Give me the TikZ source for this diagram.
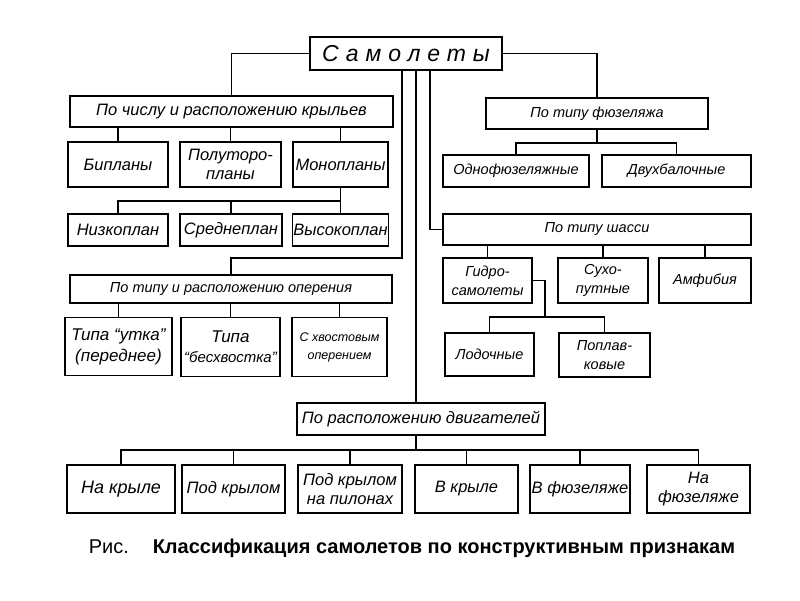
\documentclass[tikz,border=0pt]{standalone}
\usepackage{fontspec}
\setmainfont{Liberation Sans}
\tikzset{
  box/.style={draw, line width=1.5pt, align=center, inner sep=1pt,
    font=\itshape\fontsize{16.5}{19.5}\selectfont},
  smallbox/.style={box, font=\itshape\fontsize{14.5}{19}\selectfont},
  link/.style={line width=1.5pt},
}

\begin{document}
\begin{tikzpicture}[x=1pt, y=-1pt, link]
  \useasboundingbox (0,0) rectangle (800,600);

  % root
  \node[box, minimum width=192, minimum height=33,
    font=\itshape\fontsize{23}{26}\selectfont\addfontfeature{LetterSpace=30}]
    (planes) at (406,53.5) {Самолеты};

  % wings branch
  \node[box, minimum width=323, minimum height=31] (wings) at (231.5,111.5)
    {По числу и расположению крыльев};
  \foreach \n/\cx/\w/\t in {bip/118/100/{Бипланы}, semi/230.5/101/{Полуторо-\\планы},
      mono/340.5/95/{Монопланы}}
    \node[box, minimum width=\w, minimum height=45] (\n) at (\cx,164.5) {\t};
  \foreach \n/\cx/\w/\t in {low/118/100/{Низкоплан}, mid/231/102/{Среднеплан},
      high/340.5/95/{Высокоплан}}
    \node[box, minimum width=\w, minimum height=32] (\n) at (\cx,230) {\t};

  % tail branch
  \node[smallbox, minimum width=322, minimum height=28] (tail) at (231,289)
    {По типу и расположению оперения};
  \node[box, minimum width=107, minimum height=58,
    font=\itshape\fontsize{17}{21}\selectfont] (duck) at (118.5,346.5)
    {Типа “утка”\\(переднее)};
  \node[box, minimum width=99, minimum height=59,
    font=\itshape\fontsize{15}{20}\selectfont] (tailless) at (230.5,347)
    {{\fontsize{17}{20}\selectfont Типа}\\“бесхвостка”};
  \node[box, minimum width=95, minimum height=59,
    font=\itshape\fontsize{12.5}{18}\selectfont] (conv) at (339.5,347)
    {С хвостовым\\оперением};

  % fuselage branch
  \node[smallbox, minimum width=222, minimum height=31] (fus) at (597,113.5)
    {По типу фюзеляжа};
  \node[smallbox, minimum width=146, minimum height=32] (single) at (516,171)
    {Однофюзеляжные};
  \node[smallbox, minimum width=149, minimum height=32] (twin) at (676.5,171)
    {Двухбалочные};

  % gear branch
  \node[smallbox, minimum width=308, minimum height=31] (gear) at (597,229.5)
    {По типу шасси};
  \foreach \n/\cx/\w/\t in {hydro/487.5/89/{Гидро-\\самолеты}, land/603/90/{Сухо-\\путные},
      amph/705/92/{Амфибия}}
    \node[smallbox, minimum width=\w, minimum height=45] (\n) at (\cx,280.5) {\t};
  \node[smallbox, minimum width=89, minimum height=43] (boat) at (489.5,354.5)
    {Лодочные};
  \node[smallbox, minimum width=91, minimum height=44] (float) at (604.5,355)
    {Поплав-\\ковые};

  % engine branch
  \node[box, minimum width=248, minimum height=32] (eng) at (421,419)
    {По расположению двигателей};
  \node[box, minimum width=108, minimum height=48,
    font=\itshape\fontsize{18}{21}\selectfont] (onwing) at (121,489) {На крыле};
  \foreach \n/\cx/\w/\t in {under/233.5/103/{Под крылом},
      pylon/350/104/{Под крылом\\на пилонах}, inwing/466.5/103/{В крыле},
      infus/580/100/{В фюзеляже}, onfus/698.5/103/{На\\фюзеляже}}
    \node[box, minimum width=\w, minimum height=48] (\n) at (\cx,489) {\t};

  % caption
  \node[anchor=base west, inner sep=0, font=\fontsize{20}{24}\selectfont]
    (fig) at (88,553) {Рис.};
  \node[anchor=base west, inner sep=0, font=\bfseries\fontsize{20}{24}\selectfont]
    (title) at (152,553) {Классификация самолетов по конструктивным признакам};

  % bend points
  \coordinate (jtail) at (402,258);
  \coordinate (jeng) at (416,0);
  \coordinate (jgear) at (430,0);
  \coordinate (fusbus) at (597,143);
  \coordinate (monobus) at (340.5,201);
  \coordinate (hydbus) at (545,317);
  \coordinate (engbus) at (416,450);

  % connectors
  \draw (planes.west) -| (wings.north);
  \draw (planes.east) -| (fus.north);
  \draw (planes.south -| jtail) -- (jtail) -| (tail.north);
  \draw (planes.south -| jeng) -- (eng.north -| jeng);
  \draw (planes.south -| jgear) |- (gear.west);

  \foreach \k in {bip,semi,mono}
    \draw (wings.south -| \k.north) -- (\k.north);
  \draw (mono.south) -- (monobus);
  \foreach \k in {low,mid,high}
    \draw (\k.north) |- (monobus);

  \foreach \k in {duck,tailless,conv}
    \draw (tail.south -| \k.north) -- (\k.north);

  \draw (fus.south) -- (fusbus);
  \foreach \k in {single,twin}
    \draw (\k.north) |- (fusbus);

  \foreach \k in {hydro,land,amph}
    \draw (gear.south -| \k.north) -- (\k.north);
  \draw (hydro.east) -| (hydbus);
  \foreach \k in {boat,float}
    \draw (\k.north) |- (hydbus);

  \draw (eng.south -| engbus) -- (engbus);
  \foreach \k in {onwing,under,pylon,inwing,infus,onfus}
    \draw (\k.north) |- (engbus);
\end{tikzpicture}
\end{document}
